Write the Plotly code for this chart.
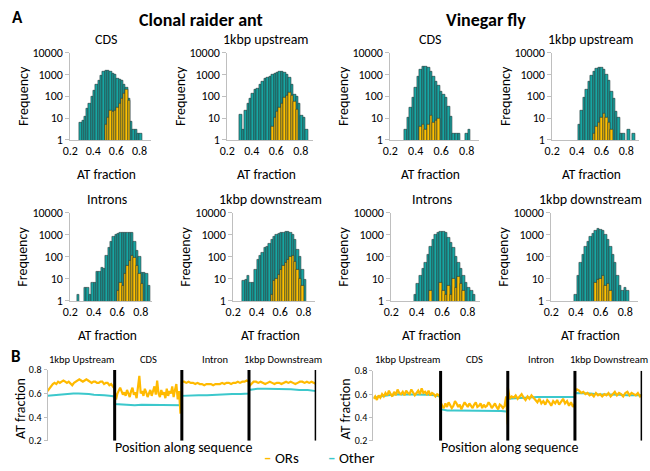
import numpy as np
import plotly.graph_objects as go

W, H = 650, 471
FONT = "Carlito, Calibri, Lato, sans-serif"
TEAL = "#17A6A3"
GOLD = "#FFC000"
EDGE = "#253535"
LINE_ORS = "#FFBA00"
LINE_OTHER = "#3CC8CC"
AXIS = "#BFBFBF"
BIN = 0.02

# ---------------- Panel A: histograms (first bin centre, counts per 0.02 bin) ----------------
ant_cds_other_start = 0.29
ant_cds_other = [6, 8, 12, 26, 44, 93, 185, 340, 520, 900, 1350, 1480, 1450, 1350, 1100, 950,
                 670, 570, 520, 340, 260, 75, 7, 3, 3, 2, 2]
ant_cds_ors_start = 0.51
ant_cds_ors = [5, 10, 21, 19, 22, 31, 44, 81, 130, 205, 62]

ant_up_other_start = 0.31
ant_up_other = [14, 3, 22, 45, 80, 130, 200, 220, 340, 450, 630, 720, 800, 950, 1100, 1200,
                1300, 1300, 1250, 1000, 720, 340, 120, 100, 45, 13, 10, 3]
ant_up_ors_start = 0.57
ant_up_ors = [4, 10, 20, 30, 45, 85, 110, 145, 110, 60, 25]

fly_cds_other_start = 0.32
fly_cds_other = [3, 10, 30, 90, 250, 800, 1600, 2300, 2400, 2000, 1300, 800, 450, 300, 160,
                 120, 90, 35, 12, 2, 2, 2, None, None, 2, 3]
fly_cds_ors_start = 0.44
fly_cds_ors = [4, 5, 3, 5, 13, 6, 8, 9]

fly_up_other_start = 0.42
fly_up_other = [5, 22, 90, 200, 450, 900, 1400, 1900, 2100, 2000, 1600, 1000, 500, 170, 75,
                20, 10, 2, 2, None, 3, None, 2]
fly_up_ors_start = 0.54
fly_up_ors = [2, 4, 6, 10, 16, 10, 6, 3]

ant_int_other_start = 0.27
ant_int_other = [2, None, None, 4, 4, 2, 7, 7, 21, 21, 33, 28, 110, 250, 500, 780, 1000, 1100,
                 1200, 1250, 1300, 1300, 1300, 1250, 500, 200, 100, 20, 20, 17, 5]
ant_int_ors_start = 0.61
ant_int_ors = [3, 7, 5, 17, 40, 65, 110, 90, 40, 17, 6]

ant_down_other_start = 0.29
ant_down_other = [8, 9, 14, 7, 7, 25, 75, 110, 150, 250, 300, 400, 600, 800, 1000, 1150, 1250,
                  1300, 1350, 1350, 1300, 1000, 600, 220, 100, 25, 9]
ant_down_ors_start = 0.53
ant_down_ors = [2, 8, 10, 15, 25, 40, 55, 75, 100, 110, 60, 25, 10, 5]

fly_int_other_start = 0.39
fly_int_other = [2, 6, 14, 28, 55, 130, 300, 600, 1000, 1300, 1400, 1350, 1200, 750, 450, 250,
                 100, 55, 28, 14, 7, 4, 3, 2]
fly_int_ors_start = 0.51
fly_int_ors = [3, None, None, None, 7, 3, 2, 5, 2, 10, 4, 12, 6, 3]

fly_down_other_start = 0.40
fly_down_other = [2, 14, 55, 130, 280, 500, 780, 1100, 1500, 1800, 1750, 1500, 1000, 600, 280,
                  130, 55, 14, 5, 3, 4, 3]
fly_down_ors_start = 0.56
fly_down_ors = [7, 9, 10, 14, 5, 6, 3]

x_ticks = [0.2, 0.4, 0.6, 0.8]
x_tick_text = ["0.2", "0.4", "0.6", "0.8"]
y_ticks = [1, 10, 100, 1000, 10000]
y_tick_text = ["1", "10", "100", "1000", "10000"]

# ---------------- Panel B: mean AT fraction along sequence (one list per region) ----------------
regions = ["1kbp Upstream", "CDS", "Intron", "1kbp Downstream"]
series_names = ["ORs", "Other"]

ant_ors_up = [0.62, 0.64, 0.67, 0.68, 0.69, 0.68, 0.70, 0.69, 0.70, 0.71, 0.70, 0.69, 0.70, 0.68,
              0.67, 0.69, 0.70, 0.71, 0.72, 0.71, 0.70, 0.71, 0.72, 0.71, 0.70, 0.69, 0.70, 0.70,
              0.69, 0.69, 0.70, 0.70, 0.68, 0.69, 0.69, 0.67, 0.68, 0.66, 0.64]
ant_ors_cds = [0.62, 0.55, 0.60, 0.63, 0.65, 0.62, 0.59, 0.61, 0.58, 0.63, 0.60, 0.57, 0.62, 0.65,
               0.59, 0.61, 0.56, 0.64, 0.75, 0.60, 0.62, 0.58, 0.64, 0.61, 0.57, 0.60, 0.63, 0.58,
               0.62, 0.66, 0.59, 0.71, 0.60, 0.57, 0.63, 0.59, 0.61, 0.56, 0.64, 0.58, 0.62, 0.60,
               0.66, 0.57, 0.63, 0.68, 0.55, 0.62, 0.43, 0.66]
ant_ors_intron = [0.70, 0.70, 0.69, 0.70, 0.69, 0.69, 0.68, 0.69, 0.68, 0.68, 0.67, 0.68, 0.68,
                  0.68, 0.67, 0.68, 0.68, 0.68, 0.69, 0.68, 0.69, 0.69, 0.68, 0.69, 0.69, 0.70,
                  0.69, 0.70, 0.70, 0.71, 0.70]
ant_ors_down = [0.66, 0.68, 0.70, 0.70, 0.69, 0.70, 0.69, 0.68, 0.69, 0.70, 0.69, 0.68, 0.69, 0.69,
                0.68, 0.69, 0.70, 0.69, 0.70, 0.69, 0.68, 0.69, 0.70, 0.70, 0.69, 0.70, 0.69, 0.70,
                0.69, 0.68]
ant_other_up = [0.58, 0.585, 0.59, 0.595, 0.60, 0.60, 0.60, 0.60, 0.595, 0.59, 0.59, 0.585, 0.58, 0.575]
ant_other_cds = [0.51, 0.505, 0.50, 0.50, 0.505, 0.505, 0.505, 0.50, 0.50, 0.50, 0.50]
ant_other_intron = [0.58, 0.585, 0.585, 0.585, 0.59, 0.59, 0.595, 0.595, 0.60]
ant_other_down = [0.63, 0.64, 0.64, 0.64, 0.635, 0.635, 0.63, 0.63, 0.62]

fly_ors_up = [0.56, 0.58, 0.55, 0.59, 0.57, 0.60, 0.58, 0.61, 0.59, 0.63, 0.60, 0.58, 0.62, 0.59,
              0.64, 0.61, 0.60, 0.62, 0.59, 0.63, 0.61, 0.60, 0.64, 0.62, 0.59, 0.61, 0.63, 0.60,
              0.65, 0.61, 0.62, 0.60, 0.63, 0.59, 0.61, 0.60, 0.58, 0.60, 0.59, 0.56]
fly_ors_cds = [0.53, 0.50, 0.48, 0.52, 0.49, 0.53, 0.51, 0.48, 0.50, 0.54, 0.52, 0.49, 0.51, 0.47,
               0.50, 0.53, 0.51, 0.49, 0.52, 0.50, 0.48, 0.51, 0.53, 0.49, 0.50, 0.52, 0.48, 0.51,
               0.49, 0.50, 0.53, 0.51, 0.48, 0.50, 0.52, 0.49, 0.47, 0.51, 0.50, 0.48, 0.50, 0.58, 0.34]
fly_ors_intron = [0.66, 0.56, 0.58, 0.57, 0.59, 0.56, 0.58, 0.60, 0.57, 0.55, 0.58, 0.56, 0.59,
                  0.57, 0.55, 0.53, 0.56, 0.52, 0.54, 0.51, 0.55, 0.53, 0.50, 0.54, 0.52, 0.55,
                  0.51, 0.53, 0.56, 0.52, 0.54, 0.50, 0.53, 0.49, 0.52]
fly_ors_down = [0.62, 0.64, 0.63, 0.61, 0.62, 0.60, 0.61, 0.59, 0.60, 0.58, 0.61, 0.59, 0.60, 0.58,
                0.60, 0.59, 0.61, 0.58, 0.60, 0.62, 0.59, 0.61, 0.60, 0.58, 0.61, 0.62, 0.59, 0.61,
                0.60, 0.59, 0.61, 0.58, 0.60]
fly_other_up = [0.57, 0.58, 0.59, 0.595, 0.60, 0.60, 0.60, 0.60, 0.60, 0.595, 0.59, 0.58]
fly_other_cds = [0.47, 0.46, 0.46, 0.46, 0.46, 0.46, 0.46, 0.455, 0.455, 0.455, 0.45]
fly_other_intron = [0.56, 0.565, 0.57, 0.57, 0.575, 0.575, 0.575, 0.58, 0.58, 0.575]
fly_other_down = [0.61, 0.61, 0.605, 0.60, 0.60, 0.595, 0.595, 0.59, 0.59, 0.59]

b_ticks = [0.2, 0.4, 0.6, 0.8]
b_tick_text = ["0.2", "0.4", "0.6", "0.8"]


def centres(start, counts):
    return [round(start + BIN * i, 3) for i in range(len(counts))]


def along(segments):
    xs, ys = [], []
    for k, seg in enumerate(segments):
        xs.extend(list(k + np.linspace(0, 1, len(seg))))
        ys.extend(seg)
    return xs, ys


fig = go.Figure()

# histogram panels: (title, other, ors, x of 0.2 px, px per unit, top px, bottom px)
panels = [
    ("CDS", (ant_cds_other_start, ant_cds_other), (ant_cds_ors_start, ant_cds_ors), 63, 117, 47, 137),
    ("1kbp upstream", (ant_up_other_start, ant_up_other), (ant_up_ors_start, ant_up_ors), 222, 124, 47, 137),
    ("CDS", (fly_cds_other_start, fly_cds_other), (fly_cds_ors_start, fly_cds_ors), 387, 129, 47, 137),
    ("1kbp upstream", (fly_up_other_start, fly_up_other), (fly_up_ors_start, fly_up_ors), 551, 125, 47, 137),
    ("Introns", (ant_int_other_start, ant_int_other), (ant_int_ors_start, ant_int_ors), 63, 119, 212, 303),
    ("1kbp downstream", (ant_down_other_start, ant_down_other), (ant_down_ors_start, ant_down_ors), 228, 119, 212, 303),
    ("Introns", (fly_int_other_start, fly_int_other), (fly_int_ors_start, fly_int_ors), 388, 129, 212, 303),
    ("1kbp downstream", (fly_down_other_start, fly_down_other), (fly_down_ors_start, fly_down_ors), 550, 125, 212, 303),
]

annotations = []


def text(t, x, y, size, bold=False, angle=0, xanchor="center"):
    annotations.append(dict(
        text=f"<b>{t}</b>" if bold else t, x=x / W, y=1 - y / H, xref="paper", yref="paper",
        showarrow=False, font=dict(size=size, family=FONT, color="black"),
        xanchor=xanchor, yanchor="middle", textangle=angle))


layout_axes = {}
for i, (title, other, ors, x02, ppu, top, bot) in enumerate(panels, start=1):
    xa = f"x{i}" if i > 1 else "x"
    ya = f"y{i}" if i > 1 else "y"
    fig.add_trace(go.Bar(x=centres(*other), y=other[1], width=BIN, xaxis=xa, yaxis=ya,
                         marker=dict(color=TEAL, line=dict(color=EDGE, width=0.6)),
                         name="Other", showlegend=False))
    fig.add_trace(go.Bar(x=centres(*ors), y=ors[1], width=BIN, xaxis=xa, yaxis=ya,
                         marker=dict(color=GOLD, line=dict(color=EDGE, width=0.6)),
                         name="ORs", showlegend=False))
    left = x02
    right = x02 + 0.7 * ppu
    layout_axes[f"xaxis{i}"] = dict(
        domain=[left / W, right / W], range=[0.2, 0.9], anchor=ya,
        tickvals=x_ticks, ticktext=x_tick_text, showline=True, linecolor=AXIS, linewidth=1,
        ticks="", showgrid=False, zeroline=False, tickfont=dict(size=12, family=FONT, color="black"))
    layout_axes[f"yaxis{i}"] = dict(
        domain=[1 - bot / H, 1 - top / H], type="log", range=[0, 4], anchor=xa,
        tickvals=y_ticks, ticktext=y_tick_text, showline=True, linecolor=AXIS, linewidth=1,
        ticks="outside", ticklen=4, tickcolor=AXIS, showgrid=False, zeroline=False,
        tickfont=dict(size=12, family=FONT, color="black"))
    cx = (left + right) / 2 - 4
    text(title, cx, top - 14, 14)
    text("AT fraction", cx, bot + 36, 13.5)
    text("Frequency", x02 - 48, (top + bot) / 2, 14, angle=-90)

# ---------------- Panel B line charts ----------------
b_charts = [
    ((ant_ors_up, ant_ors_cds, ant_ors_intron, ant_ors_down),
     (ant_other_up, ant_other_cds, ant_other_intron, ant_other_down), 40, 312, 374, 447, 9),
    ((fly_ors_up, fly_ors_cds, fly_ors_intron, fly_ors_down),
     (fly_other_up, fly_other_cds, fly_other_intron, fly_other_down), 370, 642, 375, 447, 10),
]
shapes = []
for ors_segs, other_segs, left, right, top, bot, i in b_charts:
    xa, ya = f"x{i}", f"y{i}"
    ox, oy = along(other_segs)
    fig.add_trace(go.Scatter(x=ox, y=oy, mode="lines", xaxis=xa, yaxis=ya, name=series_names[1],
                             line=dict(color=LINE_OTHER, width=2), showlegend=False))
    rx, ry = along(ors_segs)
    fig.add_trace(go.Scatter(x=rx, y=ry, mode="lines", xaxis=xa, yaxis=ya, name=series_names[0],
                             line=dict(color=LINE_ORS, width=2.2), showlegend=False))
    layout_axes[f"xaxis{i}"] = dict(domain=[left / W, right / W], range=[0, 4], anchor=ya,
                                    showticklabels=False, showline=False, ticks="",
                                    showgrid=False, zeroline=False)
    layout_axes[f"yaxis{i}"] = dict(domain=[1 - bot / H, 1 - top / H], range=[0.2, 0.8], anchor=xa,
                                    tickvals=b_ticks, ticktext=b_tick_text, showline=True,
                                    linecolor=AXIS, ticks="outside", ticklen=3, tickcolor=AXIS,
                                    showgrid=False, zeroline=False,
                                    tickfont=dict(size=10, family=FONT, color="black"))
    for b in range(1, 5):
        shapes.append(dict(type="line", xref=xa, yref=ya, x0=b, x1=b, y0=0.2, y1=0.8,
                           line=dict(color="black", width=3), layer="above"))
    seg_w = (right - left) / 4
    for k, r in enumerate(regions):
        text(r, left + seg_w * (k + 0.5), 363, 10.5)
    text("Position along sequence", (left + right) / 2 + 2, 454, 14)
    text("AT fraction", left - 28, (top + bot) / 2 + 3, 14, angle=-90)

# legend (short coloured dash + name, as in the original)
for name, colour, lx in [(series_names[0], LINE_ORS, 257), (series_names[1], LINE_OTHER, 322)]:
    annotations.append(dict(
        text=f"<span style='color:{colour}'><b>–</b></span> {name}", x=lx / W, y=1 - 465 / H,
        xref="paper", yref="paper", showarrow=False, xanchor="left", yanchor="middle",
        font=dict(size=15, family=FONT, color="black")))

# headers
text("A", 2, 11, 17, bold=True, xanchor="left")
text("Clonal raider ant", 195, 13, 18, bold=True)
text("Vinegar fly", 484, 13, 18, bold=True)
text("B", 1, 360, 17, bold=True, xanchor="left")

fig.update_layout(
    width=W, height=H, margin=dict(l=0, r=0, t=0, b=0),
    paper_bgcolor="white", plot_bgcolor="white", barmode="overlay", bargap=0,
    font=dict(family=FONT, color="black"), showlegend=False,
    annotations=annotations, shapes=shapes,
    **layout_axes,
)

fig.write_html("out.html", config={"displayModeBar": False},
               post_script="document.body.style.margin='0';document.body.style.overflow='hidden';")
